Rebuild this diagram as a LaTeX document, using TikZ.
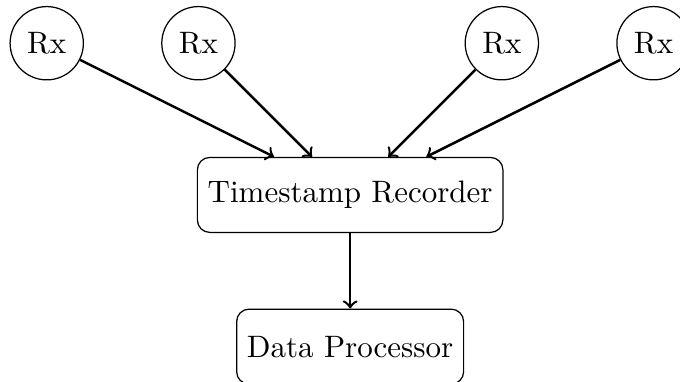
\documentclass[tikz,border=0pt]{standalone}
\usepackage{amssymb,amsmath}
\usepackage{tikz}
\usetikzlibrary{shapes,arrows}
\tikzset{rx node/.style={draw,circle}}
\tikzset{block/.style={draw,rectangle,rounded corners,minimum height=0.85cm}}

\begin{document}
\begin{tikzpicture}
\useasboundingbox (-3.97,-2.11) rectangle (3.74,2.21);

\node[block] (rec) at (0,0) {Timestamp Recorder};
\node[block] (proc) at (0,-1.72) {Data Processor};

\foreach \i/\x in {1/-3.44,2/-1.72,3/1.72,4/3.44}
         {
           \node[rx node] (rx\i) at (\x,1.72) {Rx};
           \draw[thick,->] (rx\i) -- (rec);
         }
\draw[thick,->] (rec) -- (proc);

\end{tikzpicture}
\end{document}
